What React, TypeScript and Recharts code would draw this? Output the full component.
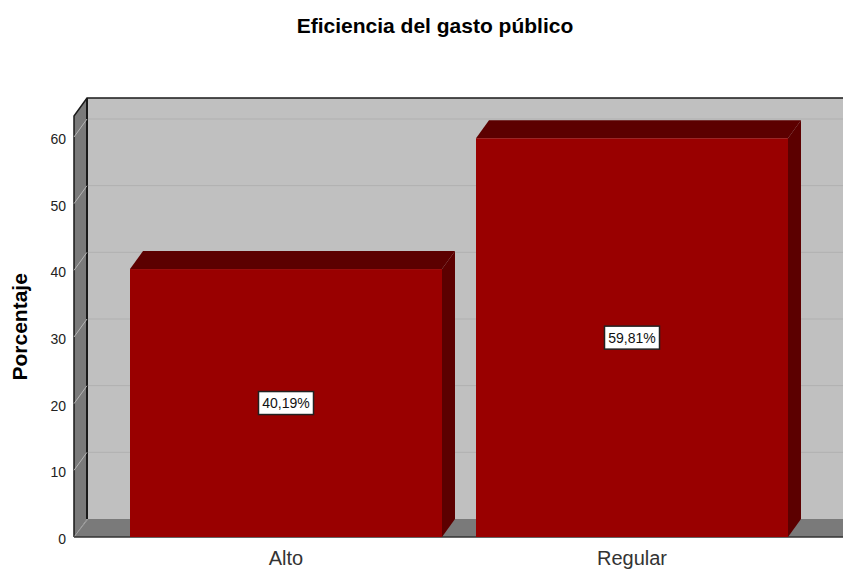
import { BarChart, Bar, XAxis, YAxis, ReferenceArea, ReferenceLine, LabelList } from 'recharts'

const categories = ['Alto', 'Regular']
const percentages = [40.19, 59.81]
const yTicks = [0, 10, 20, 30, 40, 50, 60]
const yMax = 63.15

const data = categories.map((name, i) => ({ name, value: percentages[i] }))

// fake 3D depth of the old SPSS chart
const DX = 13
const DY = 18
const PAD_LEFT = 39
const PAD_RIGHT = 38
const FONT = '"Liberation Sans", Arial, sans-serif'

// the reference area only spans the padded band range, so widen it back to the full plot
function Wall({ x: bandX, y, width: bandW, height }: any) {
  const x = bandX - PAD_LEFT
  const r = bandX + bandW + PAD_RIGHT
  const b = y + height
  return (
    <g>
      <polygon points={`${x + DX},${y - DY} ${r + DX},${y - DY} ${r + DX},${b - DY} ${x + DX},${b - DY}`} fill="#c0c0c0" />
      <polygon points={`${x},${y} ${x + DX},${y - DY} ${x + DX},${b - DY} ${x},${b}`} fill="#7a7a7a" />
      <polygon points={`${x},${b} ${x + DX},${b - DY} ${r + DX},${b - DY} ${r},${b}`} fill="#7a7a7a" />
      <polyline points={`${x},${b} ${x},${y} ${x + DX},${y - DY} ${r + DX},${y - DY}`} fill="none" stroke="#1a1a1a" strokeWidth={1.5} />
      <line x1={x + DX} y1={y - DY} x2={x + DX} y2={b - DY} stroke="#1a1a1a" strokeWidth={2} />
      <line x1={x + DX + 1} y1={b - DY} x2={x} y2={b} stroke="#a0a0a0" />
      <line x1={x} y1={b} x2={r} y2={b} stroke="#333333" strokeWidth={1.5} />
    </g>
  )
}

function GridLine({ x1, y1, x2, y2 }: any) {
  return (
    <g>
      <line x1={x1} y1={y1} x2={x1 + DX} y2={y1 - DY} stroke="#b4b4b4" />
      <line x1={x1 + DX + 1} y1={y1 - DY} x2={x2 + DX} y2={y2 - DY} stroke="#b0b0b0" />
    </g>
  )
}

function Bar3D({ x, y, width, height }: any) {
  const r = x + width
  const b = y + height
  return (
    <g>
      <polygon points={`${x},${y} ${x + DX},${y - DY} ${r + DX},${y - DY} ${r},${y}`} fill="#5c0000" />
      <polygon points={`${r},${y} ${r + DX},${y - DY} ${r + DX},${b - DY} ${r},${b}`} fill="#5c0000" />
      <rect x={x} y={y} width={width} height={height} fill="#990000" />
    </g>
  )
}

function ValueBox({ x, y, width, height, value }: any) {
  const cx = x + width / 2
  const cy = y + height / 2
  const text = Number(value).toFixed(2).replace('.', ',') + '%'
  return (
    <g>
      <rect x={cx - 27.5} y={cy - 11.5} width={55} height={23} fill="#ffffff" stroke="#222222" strokeWidth={1.5} />
      <text x={cx} y={cy + 5} textAnchor="middle" fontSize={14} fontFamily={FONT} fill="#111111">{text}</text>
    </g>
  )
}

export default function App() {
  return (
    <div style={{ position: 'absolute', left: 0, top: 0, width: 843, height: 569, overflow: 'hidden' }}>
      <BarChart width={843} height={569} data={data} margin={{ top: 116, right: 0, bottom: 0, left: 0 }}>
        <text x={435} y={33} textAnchor="middle" fontSize={21} fontWeight="bold" fontFamily={FONT} fill="#000000">
          Eficiencia del gasto público
        </text>
        <XAxis
          dataKey="name"
          height={32}
          padding={{ left: PAD_LEFT, right: PAD_RIGHT }}
          axisLine={false}
          tickLine={false}
          tickSize={0}
          tickMargin={14}
          tick={{ fontSize: 20, fontFamily: FONT, fill: '#333333' }}
        />
        <YAxis
          width={74}
          domain={[0, yMax]}
          ticks={yTicks}
          interval={0}
          axisLine={false}
          tickLine={false}
          tickSize={0}
          tickMargin={8}
          tick={{ fontSize: 14, fontFamily: FONT, fill: '#222222', dy: 2 }}
          label={{
            value: 'Porcentaje',
            angle: -90,
            position: 'insideLeft',
            offset: 0,
            dx: 20,
            dy: 54,
            style: { fontSize: 21, fontWeight: 'bold', fontFamily: FONT, fill: '#000000' },
          }}
        />
        <ReferenceArea y1={0} y2={yMax} shape={<Wall />} fillOpacity={1} zIndex={100} />
        {yTicks.filter((t) => t > 0).map((t) => (
          <ReferenceLine key={t} y={t} shape={<GridLine />} zIndex={150} />
        ))}
        <Bar dataKey="value" barSize={312} shape={<Bar3D />} isAnimationActive={false} zIndex={300}>
          <LabelList dataKey="value" content={<ValueBox />} />
        </Bar>
      </BarChart>
    </div>
  )
}
